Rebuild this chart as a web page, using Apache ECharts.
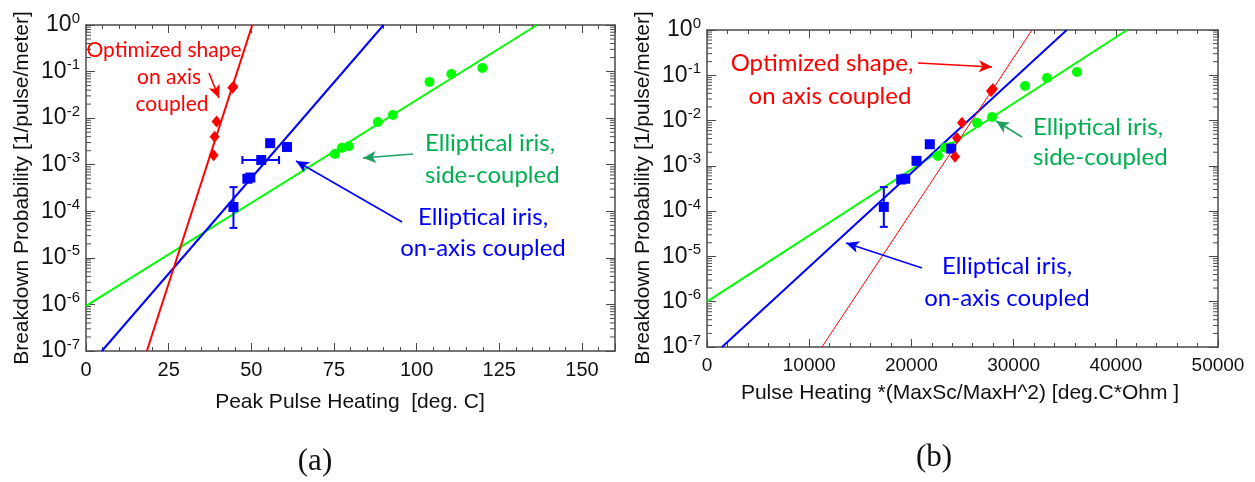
<!DOCTYPE html>
<html>
<head>
<meta charset="utf-8">
<script src="https://cdn.jsdelivr.net/npm/echarts@6/dist/echarts.min.js"></script>
<style>
html,body{margin:0;padding:0;background:#fff;}
#chart{width:1255px;height:482px;}
</style>
</head>
<body>
<div id="chart"></div>
<script>
// ---------- data ----------
// Panel (a): Peak Pulse Heating [deg. C]
const aRedX   = [38.6, 38.9, 39.5, 44.3, 44.6];
const aRedY   = [1.6e-3, 4.0e-3, 8.5e-3, 4.5e-2, 4.7e-2];
const aBlueX  = [44.6, 48.8, 49.7, 53.0, 55.7, 60.8];
const aBlueY  = [1.24e-4, 5.0e-4, 5.3e-4, 1.26e-3, 2.9e-3, 2.4e-3];
const aGreenX = [75.3, 77.4, 79.5, 88.3, 92.8, 103.9, 110.5, 119.9];
const aGreenY = [1.7e-3, 2.3e-3, 2.5e-3, 8.3e-3, 1.17e-2, 6.0e-2, 8.9e-2, 0.12];
const aRedFitX   = [18.4, 50.3];  const aRedFitY   = [1e-7, 1];
const aBlueFitX  = [4.8, 90.0];   const aBlueFitY  = [1e-7, 1];
const aGreenFitX = [0, 136.4];    const aGreenFitY = [9.3e-7, 1];
const aVErr = [[44.6, 4.4e-5, 3.3e-4]];      // x, yLow, yHigh
const aHErr = [[1.26e-3, 47.3, 58.4]];       // y, xLow, xHigh

// Panel (b): Pulse Heating *(MaxSc/MaxH^2) [deg.C*Ohm]
const bRedX   = [24270, 24460, 24950, 27790, 27980];
const bRedY   = [1.58e-3, 4.1e-3, 8.9e-3, 4.5e-2, 5.0e-2];
const bBlueX  = [17300, 19000, 19400, 20500, 21800, 23900];
const bBlueY  = [1.24e-4, 5.0e-4, 5.2e-4, 1.29e-3, 3.0e-3, 2.4e-3];
const bGreenX = [22600, 23290, 23870, 26420, 27890, 31120, 33270, 36200];
const bGreenY = [1.66e-3, 2.5e-3, 2.6e-3, 8.9e-3, 1.2e-2, 5.8e-2, 8.7e-2, 0.118];
const bRedFitX   = [11250, 31800]; const bRedFitY   = [1e-7, 1];
const bBlueFitX  = [1470, 35200];  const bBlueFitY  = [1e-7, 1];
const bGreenFitX = [0, 41100];     const bGreenFitY = [1.0e-6, 1];
const bVErr = [[17300, 4.5e-5, 3.4e-4]];

// axes
const aXMin = 0, aXMax = 160, aXStep = 25;
const bXMin = 0, bXMax = 50000, bXStep = 10000;
const yMin = 1e-7, yMax = 1;
const yMinorTicks = [];
for (let e = -7; e < 0; e++) for (let k = 2; k <= 9; k++) yMinorTicks.push(k * Math.pow(10, e));

// texts
const yTitle = 'Breakdown Probability [1/pulse/meter]';
const aXTitle = 'Peak Pulse Heating  [deg. C]';
const bXTitle = 'Pulse Heating *(MaxSc/MaxH^2) [deg.C*Ohm ]';

// ---------- helpers ----------
const zip = (xs, ys) => xs.map((x, i) => [x, ys[i]]);
const AX = '#4a4a4a';
const RED = '#ff0000', BLUE = '#0000ff', LIME = '#00ff00', TEAL = '#00b050';

function yLabel(v) {
  const e = Math.round(Math.log10(v));
  return '{b|10}{s|' + e + '}';
}
function xAxisCfg(grid, min, max, step, top, fs) {
  return {
    type: 'value', gridIndex: grid, min: min, max: max, interval: step,
    position: top ? 'top' : 'bottom',
    axisLine: { show: true, onZero: false, lineStyle: { color: AX, width: 1.5 } },
    axisTick: { show: true, inside: true, length: 8, lineStyle: { color: AX } },
    minorTick: { show: true, splitNumber: 5, length: 4, lineStyle: { color: AX } },
    splitLine: { show: false },
    axisLabel: top ? { show: false } : {
      show: true, margin: 9, color: '#111', fontFamily: 'Liberation Sans', fontSize: fs,
      formatter: v => (Math.abs(v % step) < 1e-9 ? String(v) : '')
    }
  };
}
function yAxisCfg(grid, right) {
  return {
    type: 'log', logBase: 10, gridIndex: grid, min: yMin, max: yMax, interval: 1, splitNumber: 7,
    position: right ? 'right' : 'left',
    axisLine: { show: true, onZero: false, lineStyle: { color: AX, width: 1.5 } },
    axisTick: { show: true, inside: true, length: 9, lineStyle: { color: AX } },
    splitLine: { show: false },
    axisLabel: right ? { show: false } : {
      show: true, margin: 6, color: '#111', formatter: yLabel,
      rich: {
        b: { fontFamily: 'Liberation Sans', fontSize: 23, lineHeight: 28, verticalAlign: 'middle', color: '#111' },
        s: { fontFamily: 'Liberation Sans', fontSize: 15, lineHeight: 15, verticalAlign: 'top', color: '#111' }
      }
    }
  };
}
function minorTickSeries(grid, xmin, xmax) {
  return {
    type: 'custom', xAxisIndex: grid * 2, yAxisIndex: grid * 2, silent: true, clip: false, z: 1,
    data: yMinorTicks.map(v => [xmin, v]),
    renderItem: function (params, api) {
      const v = api.value(1);
      const p = api.coord([xmin, v]);
      const q = api.coord([xmax, v]);
      return { type: 'group', children: [
        { type: 'line', shape: { x1: p[0], y1: p[1], x2: p[0] + 5, y2: p[1] }, style: { stroke: AX, lineWidth: 1 } },
        { type: 'line', shape: { x1: q[0], y1: q[1], x2: q[0] - 5, y2: q[1] }, style: { stroke: AX, lineWidth: 1 } }
      ] };
    }
  };
}
function vErrSeries(grid, data) {
  return {
    type: 'custom', xAxisIndex: grid * 2, yAxisIndex: grid * 2, silent: true, z: 3,
    data: data,
    renderItem: function (params, api) {
      const lo = api.coord([api.value(0), api.value(1)]);
      const hi = api.coord([api.value(0), api.value(2)]);
      const st = { stroke: BLUE, lineWidth: 2 };
      return { type: 'group', children: [
        { type: 'line', shape: { x1: lo[0], y1: lo[1], x2: hi[0], y2: hi[1] }, style: st },
        { type: 'line', shape: { x1: lo[0] - 4, y1: lo[1], x2: lo[0] + 4, y2: lo[1] }, style: st },
        { type: 'line', shape: { x1: hi[0] - 4, y1: hi[1], x2: hi[0] + 4, y2: hi[1] }, style: st }
      ] };
    }
  };
}
function hErrSeries(grid, data) {
  return {
    type: 'custom', xAxisIndex: grid * 2, yAxisIndex: grid * 2, silent: true, z: 3,
    data: data,
    renderItem: function (params, api) {
      const lo = api.coord([api.value(1), api.value(0)]);
      const hi = api.coord([api.value(2), api.value(0)]);
      const st = { stroke: BLUE, lineWidth: 2 };
      return { type: 'group', children: [
        { type: 'line', shape: { x1: lo[0], y1: lo[1], x2: hi[0], y2: hi[1] }, style: st },
        { type: 'line', shape: { x1: lo[0], y1: lo[1] - 4, x2: lo[0], y2: lo[1] + 4 }, style: st },
        { type: 'line', shape: { x1: hi[0], y1: hi[1] - 4, x2: hi[0], y2: hi[1] + 4 }, style: st }
      ] };
    }
  };
}
function fit(grid, xs, ys, color, width, arrows) {
  const s = {
    type: 'line', xAxisIndex: grid * 2, yAxisIndex: grid * 2, data: zip(xs, ys),
    symbol: 'none', lineStyle: { color: color, width: width }, silent: true, z: 2, clip: true
  };
  if (arrows) {
    s.markLine = {
      silent: true, animation: false, label: { show: false },
      symbolSize: [9, 13],
      data: arrows.map(a => [
        { x: a[0], y: a[1], symbol: 'none', lineStyle: { color: a[4], width: 1.6, type: 'solid' } },
        { x: a[2], y: a[3], symbol: 'arrow', lineStyle: { color: a[4], width: 1.6, type: 'solid' } }
      ])
    };
  }
  return s;
}
function scatter(grid, xs, ys, color, symbol, size) {
  return {
    type: 'scatter', xAxisIndex: grid * 2, yAxisIndex: grid * 2, data: zip(xs, ys),
    symbol: symbol, symbolSize: size, itemStyle: { color: color, opacity: 1 }, z: 4, silent: true
  };
}
function txt(x, y, s, color, align, size) {
  return { type: 'text', x: x, y: y, z: 100,
    style: { text: s, fill: color, font: (size || 24) + 'px Lato', textAlign: align || 'center', textVerticalAlign: 'middle' } };
}
function title(x, y, s, rot) {
  return { type: 'text', x: x, y: y, rotation: rot ? Math.PI / 2 : 0,
    style: { text: s, font: '21px "Liberation Sans"', fill: '#111', textAlign: 'center', textVerticalAlign: 'middle' } };
}

const chart = echarts.init(document.getElementById('chart'), null, { renderer: 'canvas' });
chart.setOption({
  animation: false,
  backgroundColor: '#fff',
  grid: [
    { left: 86, top: 25, width: 529, height: 326 },
    { left: 707, top: 30, width: 511, height: 317 }
  ],
  xAxis: [
    xAxisCfg(0, aXMin, aXMax, aXStep, false, 20), xAxisCfg(0, aXMin, aXMax, aXStep, true, 20),
    xAxisCfg(1, bXMin, bXMax, bXStep, false, 19), xAxisCfg(1, bXMin, bXMax, bXStep, true, 19)
  ],
  yAxis: [
    yAxisCfg(0, false), yAxisCfg(0, true),
    yAxisCfg(1, false), yAxisCfg(1, true)
  ],
  series: [
    minorTickSeries(0, aXMin, aXMax),
    minorTickSeries(1, bXMin, bXMax),
    fit(0, aGreenFitX, aGreenFitY, LIME, 2, [[413, 154, 363, 158, '#20a060']]),
    fit(0, aBlueFitX, aBlueFitY, BLUE, 2, [[402, 222, 296, 161, BLUE]]),
    fit(0, aRedFitX, aRedFitY, RED, 2, [[209, 73, 219, 98, RED]]),
    fit(1, bGreenFitX, bGreenFitY, LIME, 2, [[1022, 137, 996, 121, '#20a060']]),
    fit(1, bBlueFitX, bBlueFitY, BLUE, 2, [[922, 268, 846, 243, BLUE]]),
    fit(1, bRedFitX, bRedFitY, RED, 1, [[918, 63, 992, 67, RED]]),
    vErrSeries(0, aVErr), hErrSeries(0, aHErr), vErrSeries(1, bVErr),
    scatter(0, aGreenX, aGreenY, LIME, 'circle', 10),
    scatter(0, aBlueX, aBlueY, BLUE, 'rect', 10),
    scatter(0, aRedX, aRedY, RED, 'diamond', [10, 12]),
    scatter(1, bGreenX, bGreenY, LIME, 'circle', 10),
    scatter(1, bBlueX, bBlueY, BLUE, 'rect', 10),
    scatter(1, bRedX, bRedY, RED, 'diamond', [10, 12])
  ],
  graphic: [
    // axis titles
    title(22, 188, yTitle, true),
    title(643, 188, yTitle, true),
    title(350, 402, aXTitle, false),
    title(960, 393, bXTitle, false),
    // sub-figure labels
    { type: 'text', x: 315, y: 462,
      style: { text: '(a)', font: '31px "Liberation Serif"', fill: '#111', textAlign: 'center', textVerticalAlign: 'middle' } },
    { type: 'text', x: 934, y: 458,
      style: { text: '(b)', font: '31px "Liberation Serif"', fill: '#111', textAlign: 'center', textVerticalAlign: 'middle' } },
    // annotations (a)
    txt(164, 50, 'Optimized shape', RED, 'center', 21),
    txt(169, 77, 'on axis', RED, 'center', 21),
    txt(172, 104, 'coupled', RED, 'center', 21),
    txt(425, 143, 'Elliptical iris,', TEAL, 'left'),
    txt(425, 175, 'side-coupled', TEAL, 'left'),
    txt(483, 217, 'Elliptical iris,', BLUE),
    txt(483, 248, 'on-axis coupled', BLUE),
    // annotations (b)
    txt(822, 63, 'Optimized shape,', RED),
    txt(830, 96, 'on axis coupled', RED),
    txt(1033, 127, 'Elliptical iris,', TEAL, 'left'),
    txt(1033, 157, 'side-coupled', TEAL, 'left'),
    txt(1007, 266, 'Elliptical iris,', BLUE),
    txt(1007, 298, 'on-axis coupled', BLUE)
  ]
});
</script>
</body>
</html>
